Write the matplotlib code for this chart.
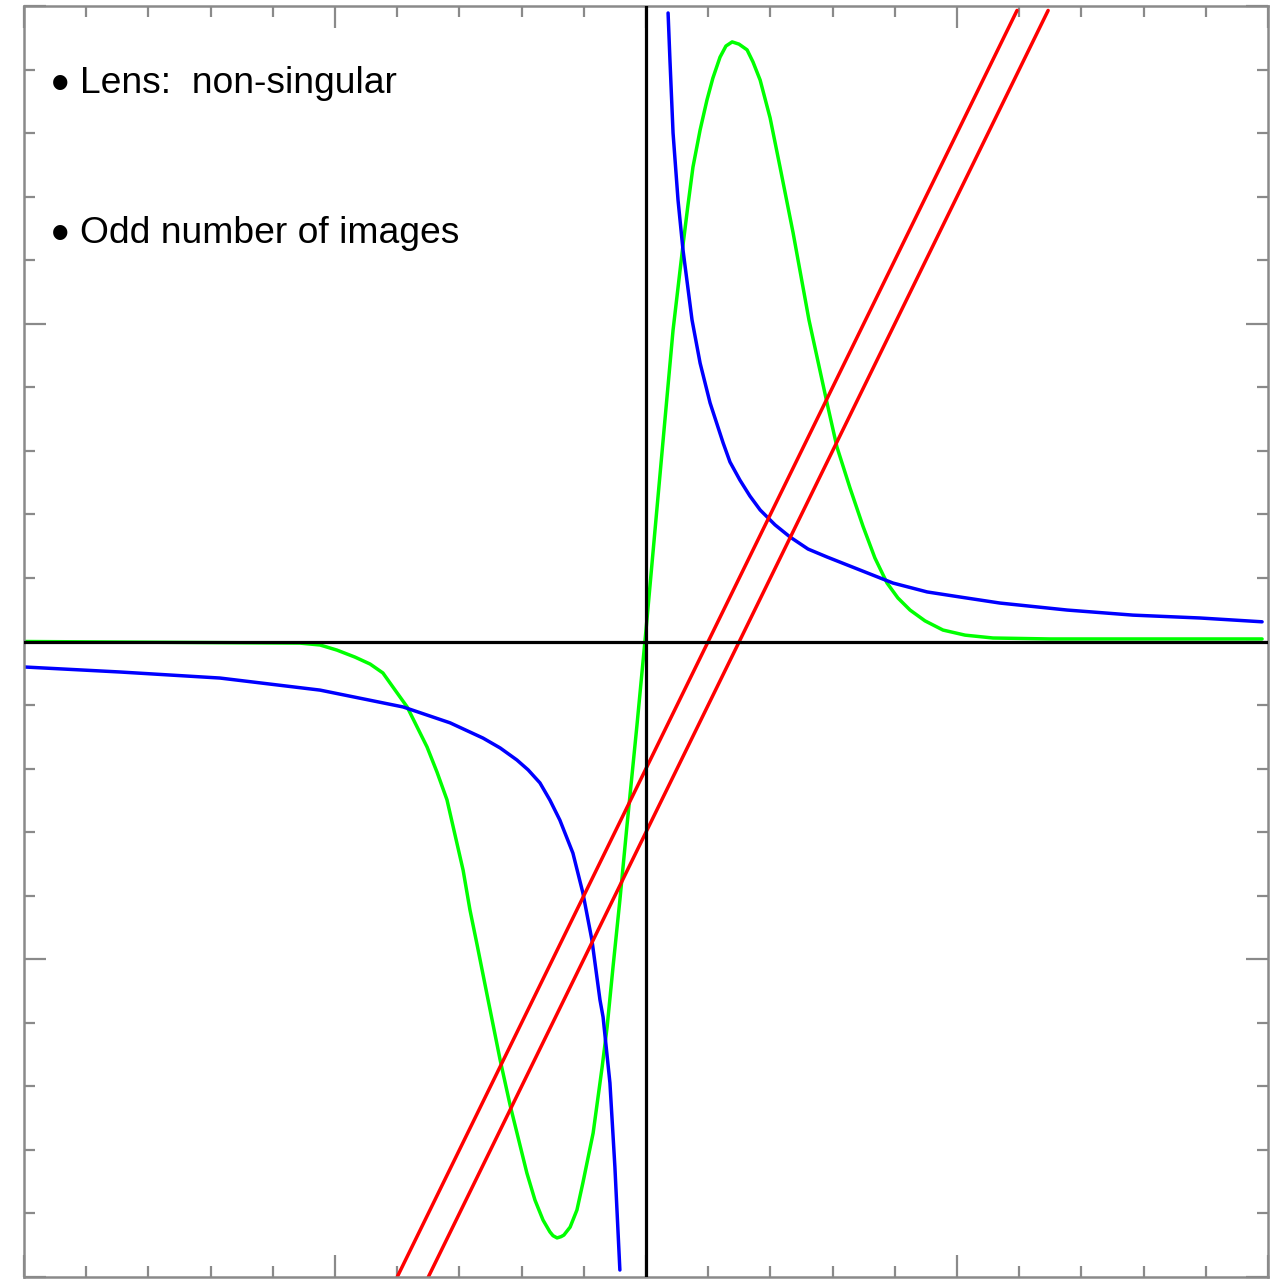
import matplotlib
matplotlib.use("Agg")
import matplotlib.pyplot as plt
from matplotlib.ticker import MultipleLocator

# values (data units, axes span -2..2)
green_x = [-2.000, -1.113, -1.048, -0.994, -0.936, -0.887, -0.846, -0.814, -0.768,
           -0.704, -0.672, -0.640, -0.614, -0.588, -0.566, -0.543, -0.511, -0.469,
           -0.437, -0.383, -0.357, -0.331, -0.309, -0.299, -0.286, -0.273, -0.264,
           -0.244, -0.222, -0.203, -0.170, -0.141, -0.125, -0.106, -0.084, -0.061,
           -0.029, 0.000, 0.029, 0.058, 0.087, 0.119, 0.135, 0.151, 0.174, 0.196,
           0.215, 0.238, 0.257, 0.277, 0.299, 0.325, 0.344, 0.367, 0.399, 0.431,
           0.473, 0.524, 0.582, 0.614, 0.656, 0.698, 0.736, 0.775, 0.810, 0.849,
           0.897, 0.955, 1.026, 1.116, 1.299, 1.981]
green_y = [0.000, -0.005, -0.011, -0.027, -0.049, -0.071, -0.099, -0.143, -0.206,
           -0.332, -0.411, -0.498, -0.609, -0.720, -0.845, -0.955, -1.112, -1.317,
           -1.459, -1.673, -1.758, -1.821, -1.858, -1.870, -1.877, -1.873, -1.868,
           -1.843, -1.789, -1.704, -1.547, -1.339, -1.213, -1.024, -0.814, -0.578,
           -0.263, 0.036, 0.351, 0.666, 0.980, 1.248, 1.374, 1.493, 1.610, 1.704,
           1.773, 1.839, 1.874, 1.887, 1.880, 1.862, 1.824, 1.767, 1.648, 1.493,
           1.286, 1.012, 0.751, 0.612, 0.483, 0.362, 0.263, 0.184, 0.137, 0.099,
           0.065, 0.036, 0.020, 0.011, 0.008, 0.008]

blue_right_x = [0.071, 0.077, 0.087, 0.103, 0.119, 0.148, 0.174, 0.206, 0.248, 0.270,
                0.302, 0.334, 0.367, 0.415, 0.463, 0.521, 0.582, 0.688, 0.794, 0.904,
                1.010, 1.138, 1.354, 1.566, 1.781, 1.981]
blue_right_y = [1.978, 1.830, 1.600, 1.389, 1.232, 1.012, 0.876, 0.751, 0.625, 0.565,
                0.508, 0.458, 0.414, 0.367, 0.329, 0.291, 0.266, 0.225, 0.184, 0.156,
                0.140, 0.121, 0.099, 0.083, 0.074, 0.062]

blue_left_x = [-2.003, -1.691, -1.370, -1.048, -0.781, -0.630, -0.524, -0.469, -0.415,
               -0.379, -0.341, -0.309, -0.277, -0.235, -0.203, -0.174, -0.148, -0.138,
               -0.116, -0.100, -0.084]
blue_left_y = [-0.080, -0.096, -0.115, -0.153, -0.206, -0.256, -0.304, -0.335, -0.373,
               -0.404, -0.445, -0.499, -0.562, -0.666, -0.791, -0.939, -1.128, -1.182,
               -1.389, -1.654, -1.978]

red1_x = [-0.800, 1.193]
red1_y = [-2.000, 1.986]
red2_x = [-0.700, 1.293]
red2_y = [-2.000, 1.986]

bullets = ["Lens:  non-singular", "Odd number of images"]
bullet_y = [1.726, 1.254]

fig = plt.figure(figsize=(12.70, 12.79), dpi=100)
ax = fig.add_axes([24 / 1270, 2 / 1279, 1244 / 1270, 1271 / 1279])

lw = 2.5
line_kw = dict(lw=lw, zorder=2, solid_joinstyle="round", solid_capstyle="round")
ax.plot(green_x, green_y, color="#00ff00", **line_kw)
ax.plot(blue_right_x, blue_right_y, color="#0000ff", **line_kw)
ax.plot(blue_left_x, blue_left_y, color="#0000ff", **line_kw)
ax.plot(red1_x, red1_y, color="#ff0000", **line_kw)
ax.plot(red2_x, red2_y, color="#ff0000", **line_kw)

# axis lines through the origin
ax.axhline(0, color="black", lw=2.3, zorder=3)
ax.axvline(0, color="black", lw=2.3, zorder=3)

ax.set_xlim(-2, 2)
ax.set_ylim(-2, 2)

gray = "#8a8a8a"
for sp in ax.spines.values():
    sp.set_color(gray)
    sp.set_linewidth(1.8)

ax.xaxis.set_major_locator(MultipleLocator(1))
ax.yaxis.set_major_locator(MultipleLocator(1))
ax.xaxis.set_minor_locator(MultipleLocator(0.2))
ax.yaxis.set_minor_locator(MultipleLocator(0.2))
ax.tick_params(which="both", direction="in", top=True, right=True,
               bottom=True, left=True, color=gray, width=1.6,
               labelbottom=False, labelleft=False)
ax.tick_params(which="major", length=16)
ax.tick_params(which="minor", length=8)

for label, yy in zip(bullets, bullet_y):
    ax.text(-1.884, yy - 0.025, "\u2022", fontsize=38, family="Liberation Sans",
            ha="center", va="baseline", zorder=4)
    ax.text(-1.82, yy, label, fontsize=26.8, family="Liberation Sans",
            ha="left", va="baseline", zorder=4)

fig.savefig("out.png", dpi=100, facecolor="white")
